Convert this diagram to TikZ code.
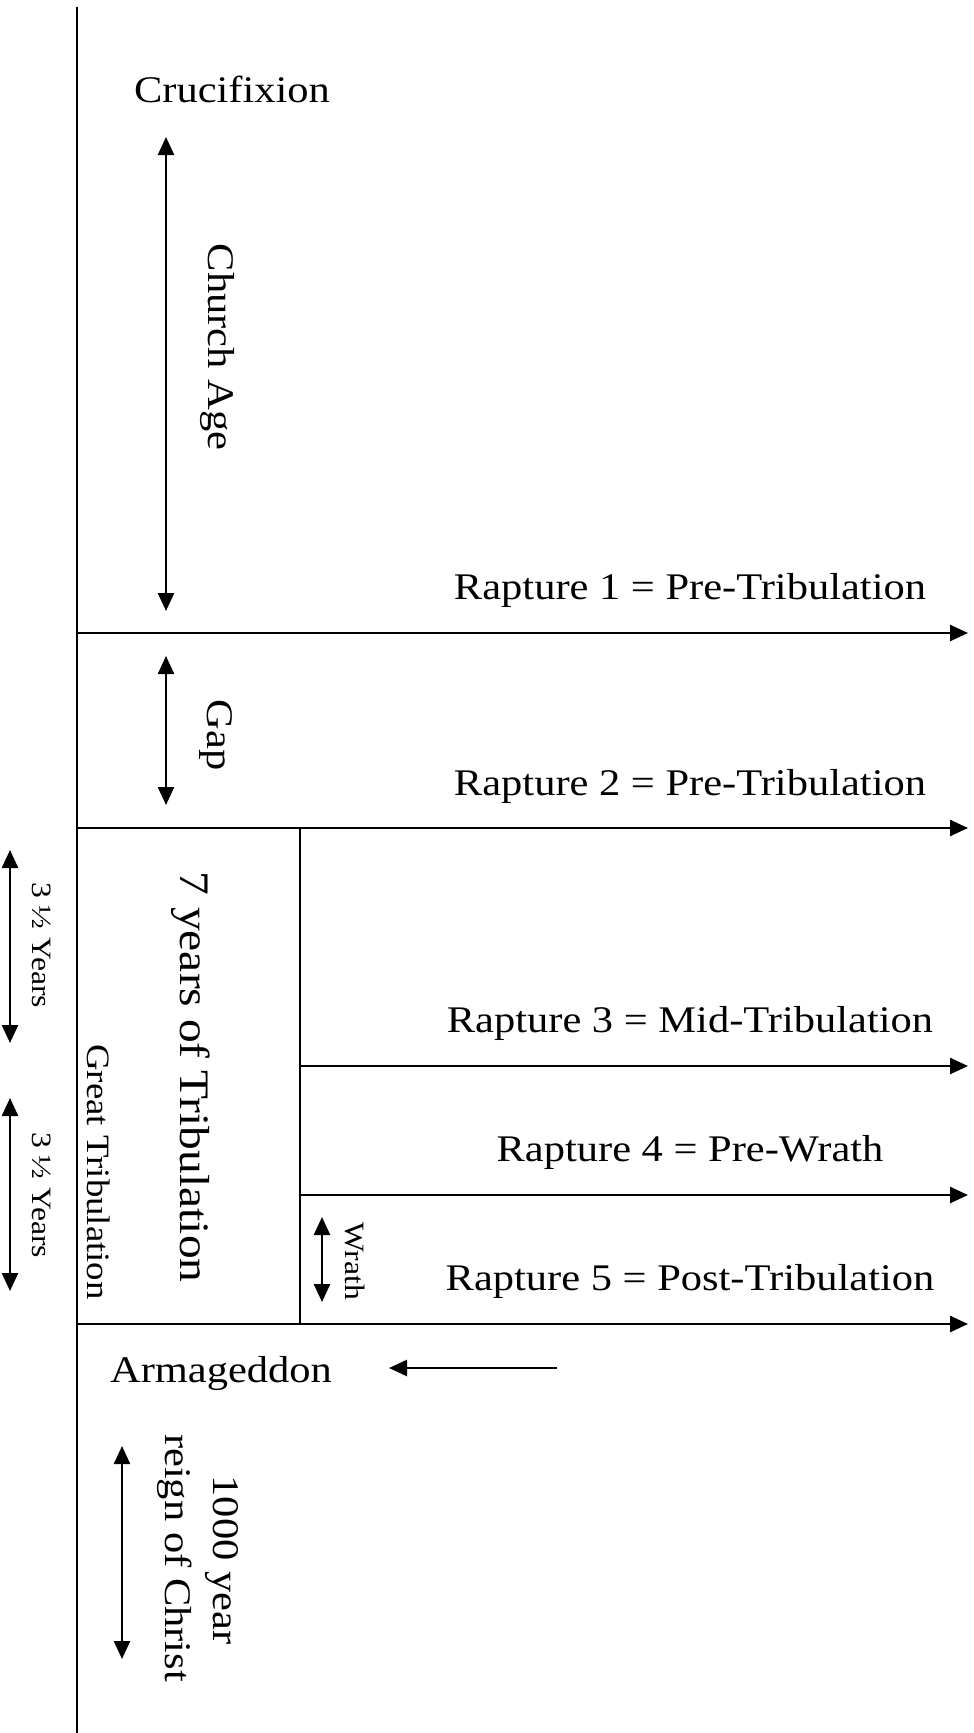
\documentclass[tikz,border=0pt]{standalone}
\usepackage{fontspec}
\setmainfont{Liberation Serif}[FakeStretch=1.13]
\usetikzlibrary{arrows.meta}
\tikzset{
  ln/.style={line width=2.5pt},
  arr/.style={ln,-{Triangle[length=18pt,width=16pt]}},
  darr/.style={ln,{Triangle[length=18pt,width=16pt]}-{Triangle[length=18pt,width=16pt]}},
  lbl/.style={inner sep=0pt, anchor=base, font=\fontsize{37.6}{45}\selectfont},
  vlbl/.style={lbl, rotate=-90},
  bigv/.style={vlbl, font=\fontsize{42}{50}\selectfont},
  midv/.style={vlbl, font=\fontsize{32.6}{39}\selectfont},
  smallv/.style={vlbl, font=\fontsize{28}{34}\selectfont},
}
\begin{document}
\begin{tikzpicture}[x=1pt,y=-1pt]
\useasboundingbox (0,0) rectangle (974,1733);

% main time axis
\coordinate (axtop) at (77,7);
\coordinate (axbot) at (77,1733);
\draw[ln] (axtop) -- (axbot);

% horizontal lines
\coordinate (l1s) at (77,633);   \coordinate (l1e) at (968,633);
\coordinate (l2s) at (77,828);   \coordinate (l2e) at (968,828);
\coordinate (l3s) at (300,1066); \coordinate (l3e) at (968,1066);
\coordinate (l4s) at (300,1195); \coordinate (l4e) at (968,1195);
\coordinate (l5s) at (77,1324);  \coordinate (l5e) at (968,1324);
\draw[arr] (l1s) -- (l1e);
\draw[arr] (l2s) -- (l2e);
\draw[arr] (l3s) -- (l3e);
\draw[arr] (l4s) -- (l4e);
\draw[arr] (l5s) -- (l5e);

% inner vertical line of tribulation box
\coordinate (ivtop) at (300,828);
\coordinate (ivbot) at (300,1324);
\draw[ln] (ivtop) -- (ivbot);

% labels
\node[lbl] (cruc) at (232,102) {Crucifixion};
\node[lbl] (r1) at (690,599) {Rapture 1 = Pre-Tribulation};
\node[lbl] (r2) at (690,795) {Rapture 2 = Pre-Tribulation};
\node[lbl] (r3) at (690,1032) {Rapture 3 = Mid-Tribulation};
\node[lbl] (r4) at (690,1161) {Rapture 4 = Pre-Wrath};
\node[lbl] (r5) at (690,1290) {Rapture 5 = Post-Tribulation};
\node[lbl] (arm) at (221,1382) {Armageddon};

\node[vlbl] (church) at (208,347) {Church Age};
\node[vlbl] (gap) at (207,735) {Gap};
\node[bigv] (seven) at (180,1077) {7 years of Tribulation};
\node[midv] (great) at (87,1172) {Great Tribulation};
\node[smallv] (half1) at (32,945) {3 ½ Years};
\node[smallv] (half2) at (32,1195) {3 ½ Years};
\node[smallv] (wrath) at (345,1261) {Wrath};
\node[vlbl] (thou1) at (213,1560) {1000 year};
\node[vlbl] (thou2) at (165,1558) {reign of Christ};

% span arrows
\coordinate (cha) at (166,137);  \coordinate (chb) at (166,611);
\coordinate (gpa) at (166,656);  \coordinate (gpb) at (166,805);
\coordinate (h1a) at (10,850);   \coordinate (h1b) at (10,1043);
\coordinate (h2a) at (10,1098);  \coordinate (h2b) at (10,1291);
\coordinate (wra) at (322,1217); \coordinate (wrb) at (322,1302);
\coordinate (tha) at (122,1446); \coordinate (thb) at (122,1659);
\draw[darr] (cha) -- (chb);
\draw[darr] (gpa) -- (gpb);
\draw[darr] (h1a) -- (h1b);
\draw[darr] (h2a) -- (h2b);
\draw[darr] (wra) -- (wrb);
\draw[darr] (tha) -- (thb);

% Armageddon pointer
\coordinate (armtail) at (557,1368);
\coordinate (armtip) at (389,1368);
\draw[arr] (armtail) -- (armtip);
\end{tikzpicture}
\end{document}
